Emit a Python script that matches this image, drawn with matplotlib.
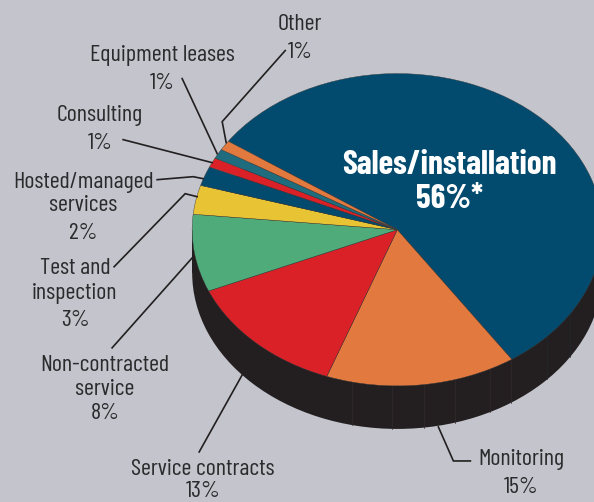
import matplotlib
matplotlib.use('Agg')
import numpy as np
import matplotlib.pyplot as plt
from matplotlib.patches import Rectangle

categories = ['Sales/installation', 'Monitoring', 'Service contracts', 'Non-contracted service',
              'Test and inspection', 'Hosted/managed services', 'Consulting', 'Equipment leases', 'Other']
values = [56, 15, 13, 8, 3, 2, 1, 1, 1]
colors = ['#024B6E', '#E27A3F', '#DB2128', '#4FAC7A', '#E8C435', '#024B6E', '#DB2128', '#1F6C7E', '#E27A3F']
label_lines = [['Monitoring'], ['Service contracts'], ['Non-contracted', 'service'],
               ['Test and', 'inspection'], ['Hosted/managed', 'services'], ['Consulting'],
               ['Equipment leases'], ['Other']]
label_y = [[459, 487], [469, 491], [365, 389, 413], [268, 293, 320], [182, 205, 233],
           [115, 143], [55, 83], [24, 52]]
label_x = [521, 203, 105, 75, 83, 100, 162, 300]
leaders = [[(438, 427), (453, 461), (470, 461)],
           [(242, 375), (199, 452)],
           [(193, 257), (112, 348)],
           [(197, 197), (185, 194), (114, 267)],
           [(157, 180), (193, 177), (203, 179)],
           [(123, 140), (212, 163)],
           [(182, 79), (217, 154)],
           [(285, 51), (222, 122), (226, 143)]]
side_lines = [352, 392, 424, 455, 490, 511, 547, 570]

W, H = 594, 502
CX, CY, RX, RY, DEPTH = 397, 230, 205, 156, 43
BG = '#C3C4CC'
DARK = '#231F20'
TXT = '#2B2A2C'
FONT = ['Barlow Condensed', 'DejaVu Sans']


def px(x, y):
    return (x - CX) / RX, (CY - y) / RY


fig = plt.figure(figsize=((W + 0.5) / 100, (H + 0.5) / 100), dpi=100)
fig.set_facecolor(BG)
ax = fig.add_axes([0, 0, 1, 1])

# side of the disc: lower pie plus a band joining it to the top one
d = DEPTH / RY
ax.pie([1], colors=[DARK], radius=1, center=(0, -d), frame=True)
ax.add_patch(Rectangle((-1, -d), 2, d, color=DARK, lw=0))
for x in side_lines:
    u = (x - CX) / RX
    y0 = -np.sqrt(1 - u ** 2)
    col = '#33282A' if x < 515 else '#20282C'
    ax.plot([u, u], [y0, y0 - d], color=col, lw=0.5)

ax.pie(values, colors=colors, startangle=145.5, counterclock=False, radius=1,
       center=(0, 0), frame=True, wedgeprops={'edgecolor': '#3A3A3A', 'linewidth': 0.3})

ax.set_aspect('auto')
ax.set_xlim(-CX / RX, (W - CX) / RX)
ax.set_ylim((CY - H) / RY, CY / RY)
ax.set_xticks([])
ax.set_yticks([])
ax.axis('off')

for pts in leaders:
    xy = [px(*p) for p in pts]
    ax.plot([p[0] for p in xy], [p[1] for p in xy], color=DARK, lw=1.2, clip_on=False,
            solid_joinstyle='miter')

for lines, val, x, ys in zip(label_lines, values[1:], label_x, label_y):
    for s, y in zip(lines + [f'{val}%'], ys):
        tx, ty = px(x, y)
        ax.text(tx, ty, s, ha='center', va='center', color=TXT, fontsize=17.3, family=FONT)

tx, ty = px(449, 165)
ax.text(tx, ty, categories[0], ha='center', va='center', color='white', fontsize=24,
        fontweight='bold', family=FONT)
tx, ty = px(449, 199)
ax.text(tx, ty, f'{values[0]}%*', ha='center', va='center', color='white', fontsize=24,
        fontweight='bold', family=FONT)

fig.savefig('out.png', dpi=100, facecolor=BG)
